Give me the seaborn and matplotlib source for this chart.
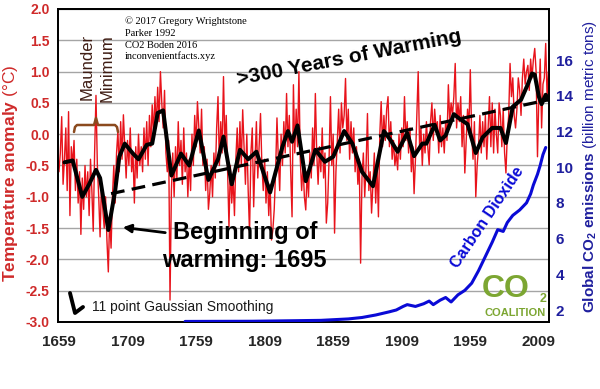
import matplotlib
matplotlib.use("Agg")
import matplotlib.pyplot as plt
import seaborn as sns
from matplotlib.lines import Line2D

# ---------------- data ----------------
annual_start = 1659
annual_temp = [
    -0.6, -0.3, 0.28, -0.8, -0.4, 0.1, -0.9, 0.36, -1.3, -0.2,
    -0.5, -0.1, -0.9, -0.4, -1.1, -0.6, -1.6, -0.7, -1.2, -0.5,
    -1.0, -0.6, -1.3, -0.4, -0.9, -1.55, -0.3, 0.62, -0.5, -1.0,
    -1.64, -0.8, -1.2, -1.5, -1.0, -1.7, -2.2, -1.3, -1.82, -1.0,
    -0.5, -1.1, -0.3, 0.05, -0.6, 0.2, -0.4, 0.31, -0.2, -0.7,
    -0.1, -0.5, 0.1, -0.6, -0.3, -1.1, -0.2, -0.7, 0.0, -0.5,
    -0.2, -0.6, 0.1, -0.4, 0.2, -0.5, 0.3, -0.2, 0.47, 0.0,
    0.6, 0.1, 0.75, 0.2, 1.0, 0.5, 0.1, 0.7, -0.3, -0.6,
    -0.1, -2.65, -0.9, -0.3, -1.0, -0.2, -0.7, 0.2, -0.5, -0.1,
    -0.8, 0.1, -0.6, -0.3, -1.0, -0.4, -0.9, 0.0, -0.5, 0.3,
    -0.2, 0.52, 0.1, -0.3, 0.4, -0.5, -0.2, -0.9, -0.4, -1.2,
    -0.94, -0.5, -1.0, -0.3, -0.7, 0.1, 0.6, -0.5, 0.2, -0.3,
    0.92, -0.2, 0.3, -0.6, -1.48, -0.5, -1.1, -0.7, -1.3, -0.4,
    0.1, -0.6, 0.2, -0.5, 0.39, -0.2, -0.8, 0.0, -0.9, -1.58,
    -0.3, 0.1, -1.16, -0.4, 0.2, -0.7, -0.2, 0.33, -0.5, -0.9,
    -0.4, -1.1, -0.6, -1.3, -0.8, -1.69, -1.53, -1.2, -0.6, 0.26,
    -0.4, -0.9, 0.0, -0.5, 0.2, -0.3, 0.65, -0.2, 0.3, -0.6,
    -1.32, 0.79, -0.3, 0.4, -0.2, 1.0, -0.4, -0.9, -0.5, -1.0,
    -1.21, -0.6, -1.0, -0.3, -0.7, 0.1, -0.5, 0.65, -0.3, -0.8,
    -0.2, -0.6, 0.1, -0.7, -0.3, -1.42, -1.1, -0.4, 0.6, -0.5,
    0.0, -1.58, -0.6, -0.1, 0.4, -0.3, 0.5, 0.1, 0.3, 0.89,
    -0.1, 0.4, -0.4, 0.2, -0.3, 0.1, -0.6, -0.2, -0.8, -0.4,
    -2.06, -0.7, -0.3, -1.0, -0.5, 0.33, -0.9, -0.6, -1.26, -0.8,
    -0.3, -1.1, -0.5, -1.32, 0.0, 0.52, -0.2, 0.3, -0.1, 0.4,
    0.6, -0.2, 0.2, -0.4, -0.1, -0.5, -0.3, -0.57, 0.0, -0.4,
    0.1, -0.2, 0.6, -0.1, 0.2, -0.3, 0.1, -0.6, -0.2, -0.95,
    -0.4, 0.3, 1.0, -0.2, 0.1, -0.5, 0.0, -0.3, 0.2, -0.2,
    -0.49, 0.2, 0.5, -0.1, 0.4, 0.1, 0.2, -0.3, 0.3, -0.2,
    0.1, -0.3, 0.2, -0.1, 0.79, 0.2, 0.5, 0.3, 0.6, 1.13,
    0.1, 0.5, 0.2, 0.6, -0.2, 0.3, -0.62, -0.1, 0.4, 0.1,
    1.03, 0.0, -0.4, 0.2, -1.0, -0.5, -0.2, 0.3, -0.3, 0.2,
    -0.2, 0.3, -0.4, 0.1, 0.6, -0.2, 0.5, -0.3, 0.4, 0.0,
    -0.3, 0.5, 0.3, -0.2, 0.4, -0.3, -0.62, 0.0, 0.3, 1.13,
    0.6, 0.9, 0.3, 0.1, 0.4, 0.9, 0.7, 0.3, 0.9, 1.2,
    0.8, 1.0, 1.1, 0.7, 1.2, 0.9, 1.19, 1.37, 1.0, -0.36,
    0.6, 1.2, 0.1, 0.8, 0.9, 1.45, 0.6, 1.0,
]
annual_years = list(range(annual_start, annual_start + len(annual_temp)))

smooth_years = [1663, 1669, 1676, 1681, 1686, 1689, 1695, 1700, 1703, 1707,
                1713, 1717, 1723, 1727, 1731, 1735, 1741, 1748, 1754, 1761,
                1768, 1775, 1779, 1785, 1791, 1797, 1803, 1813, 1822, 1826,
                1829, 1833, 1839, 1846, 1853, 1859, 1867, 1873, 1880, 1888,
                1896, 1901, 1906, 1913, 1918, 1924, 1927, 1933, 1937, 1941,
                1947, 1951, 1957, 1963, 1968, 1975, 1981, 1985, 1990, 1996,
                2001, 2004, 2006, 2009, 2011, 2014, 2016]
smooth_vals = [-0.45, -0.42, -1.00, -0.80, -0.57, -0.70, -1.53, -0.90, -0.36, -0.15,
               -0.31, -0.40, -0.17, -0.15, 0.34, 0.38, -0.66, -0.31, -0.50, 0.06,
               -0.73, -0.40, -0.04, -0.80, -0.25, -0.40, -0.28, -0.93, -0.20, 0.05,
               -0.12, 0.14, -0.75, -0.25, -0.44, -0.36, 0.05, -0.15, -0.60, -0.83,
               0.05, -0.10, -0.28, 0.02, -0.35, -0.15, -0.15, 0.15, -0.10, -0.02,
               0.32, 0.25, 0.16, -0.30, -0.05, 0.10, 0.10, -0.14, 0.44, 0.55,
               0.80, 0.97, 0.95, 0.60, 0.48, 0.63, 0.55]

trend_years = [1697, 2016]
trend_vals = [-0.95, 0.55]

co2_years = [1751, 1800, 1850, 1870, 1880, 1890, 1900, 1905, 1910, 1913,
             1919, 1925, 1929, 1932, 1937, 1941, 1945, 1950, 1955, 1960,
             1965, 1970, 1975, 1979, 1983, 1986, 1990, 1995, 2000, 2003,
             2005, 2008, 2010, 2012, 2014]
co2_vals = [1.36, 1.37, 1.42, 1.5, 1.58, 1.72, 1.9, 2.0, 2.2, 2.3,
            2.2, 2.35, 2.5, 2.3, 2.55, 2.7, 2.45, 2.85, 3.1, 3.5,
            4.2, 5.0, 5.8, 6.5, 6.4, 6.9, 7.3, 7.6, 8.0, 8.5,
            9.0, 9.6, 10.1, 10.7, 11.1]

x_ticks = [1659, 1709, 1759, 1809, 1859, 1909, 1959, 2009]
temp_ticks = [2.0, 1.5, 1.0, 0.5, 0.0, -0.5, -1.0, -1.5, -2.0, -2.5, -3.0]
co2_ticks = [2, 4, 6, 8, 10, 12, 14, 16]

# ---------------- style ----------------
sns.set_style("white")
plt.rcParams['font.family'] = ['Liberation Sans', 'DejaVu Sans']
plt.rcParams['mathtext.fontset'] = 'custom'
plt.rcParams['mathtext.rm'] = 'Liberation Sans'
plt.rcParams['mathtext.bf'] = 'Liberation Sans:bold'
plt.rcParams['mathtext.it'] = 'Liberation Sans:italic'

RED = '#e8131b'
TRED = '#cf2a2a'
NAVY = '#1f1f9e'
BLUE = '#0a0ad6'
GREEN = '#7ca632'

W, H = 600, 389
fig = plt.figure(figsize=(W / 100, H / 100), dpi=100)


def P(x, y):
    return (x / W, 1 - y / H)


ax = fig.add_axes([58 / W, 1 - 322 / H, 491 / W, 313 / H])
ax2 = ax.twinx()

sns.lineplot(x=annual_years, y=annual_temp, ax=ax, color=RED, lw=1.0, zorder=3)
sns.lineplot(x=trend_years, y=trend_vals, ax=ax, color='black', lw=2.3,
             linestyle=(0, (4.3, 2.3)), zorder=4)
sns.lineplot(x=smooth_years, y=smooth_vals, ax=ax, color='black', lw=2.9, zorder=5)
sns.lineplot(x=co2_years, y=co2_vals, ax=ax2, color=BLUE, lw=2.2, zorder=3)

ax.set_xlim(1658.3, 2016.4)
ax.set_ylim(-3, 2)
ax2.set_ylim(1.328, 18.856)

ax.set_xticks(x_ticks)
ax.set_xticklabels([str(t) for t in x_ticks], fontweight='bold', fontsize=11,
                   family=['Liberation Sans Narrow', 'Liberation Sans'])
ax.set_yticks(temp_ticks)
ax.set_yticklabels([f"{t:.1f}" for t in temp_ticks], fontweight='bold', fontsize=10,
                   color=TRED)
ax2.set_yticks(co2_ticks)
ax2.set_yticklabels([str(t) for t in co2_ticks], fontweight='bold', fontsize=11,
                    color=NAVY, family=['Liberation Sans Narrow', 'Liberation Sans'])

ax.tick_params(axis='y', length=0, pad=6)
ax.tick_params(axis='x', length=0, pad=9)
ax2.tick_params(axis='y', length=0, pad=5)

ax.grid(axis='y', color='#a5a5a5', lw=1.0)
ax.grid(axis='x', visible=False)
ax2.grid(False)
ax.set_axisbelow(True)
ax.set_xlabel('')
ax.set_ylabel('')
ax2.set_ylabel('')
for a in (ax, ax2):
    for s in a.spines.values():
        s.set_color('black')
        s.set_linewidth(1.3)

# axis titles
fig.text(*P(11, 173), r"$\mathbf{Temperature\ anomaly}$ (°C)", rotation=90,
         ha='center', va='center', fontsize=12.5, color=TRED)
fig.text(*P(590, 166), r"$\mathbf{Global\ CO_2\ emissions}$ (billion metric tons)",
         rotation=90, ha='center', va='center', fontsize=11, color=NAVY)

# credits
serif = ['Liberation Serif', 'DejaVu Serif']
for txt, yy in [("© 2017 Gregory Wrightstone", 21), ("Parker 1992", 33),
                ("CO2 Boden 2016", 45), ("inconvenientfacts.xyz", 56.5)]:
    fig.text(*P(125, yy), txt, ha='left', va='center', fontsize=7.5,
             family=serif, color='black')

# Maunder minimum
fig.text(*P(87, 67), "Maunder", rotation=90, ha='center', va='center',
         fontsize=12, color='#3f1d14')
fig.text(*P(107, 68), "Minimum", rotation=90, ha='center', va='center',
         fontsize=12, color='#3f1d14')
bx = [74, 75, 77, 94, 96, 98, 115, 117, 118]
by = [132, 127, 125, 125, 118, 125, 125, 127, 132]
fig.add_artist(Line2D([x / W for x in bx], [1 - y / H for y in by],
                      transform=fig.transFigure, color='#8b4a1e', lw=1.8))

# headline
fig.text(*P(349, 58), ">300 Years of Warming", rotation=11, ha='center',
         va='center', fontsize=15, fontweight='bold', color='black')

# beginning of warming
fig.text(*P(245, 233), "Beginning of", ha='center', va='center', fontsize=17,
         fontweight='bold', color='black', zorder=10)
fig.text(*P(244, 260), "warming: 1695", ha='center', va='center', fontsize=17,
         fontweight='bold', color='black', zorder=10)
ax.annotate('', xy=P(120, 227), xycoords='figure fraction',
            xytext=P(168, 233), textcoords='figure fraction',
            arrowprops=dict(arrowstyle='-|>', color='black', lw=2.0,
                            mutation_scale=12))

# smoothing legend
fig.add_artist(Line2D([70 / W, 75 / W, 83 / W], [1 - 293 / H, 1 - 313 / H, 1 - 307 / H],
                      transform=fig.transFigure, color='black', lw=2.8))
fig.text(*P(92, 307), "11 point Gaussian Smoothing", ha='left', va='center',
         fontsize=10, color='#1a1a1a')

# carbon dioxide label
fig.text(*P(487, 217), "Carbon Dioxide", rotation=56, ha='center', va='center',
         fontsize=11.5, fontweight='bold', color=BLUE)

# CO2 coalition logo
fig.text(*P(482, 289), "CO", ha='left', va='center', fontsize=23,
         fontweight='bold', color=GREEN)
fig.text(*P(543, 299), "2", ha='center', va='center', fontsize=9,
         fontweight='bold', color=GREEN)
fig.text(*P(515, 313), "COALITION", ha='center', va='center', fontsize=8,
         fontweight='bold', color=GREEN)

fig.savefig("out.png", dpi=100)
